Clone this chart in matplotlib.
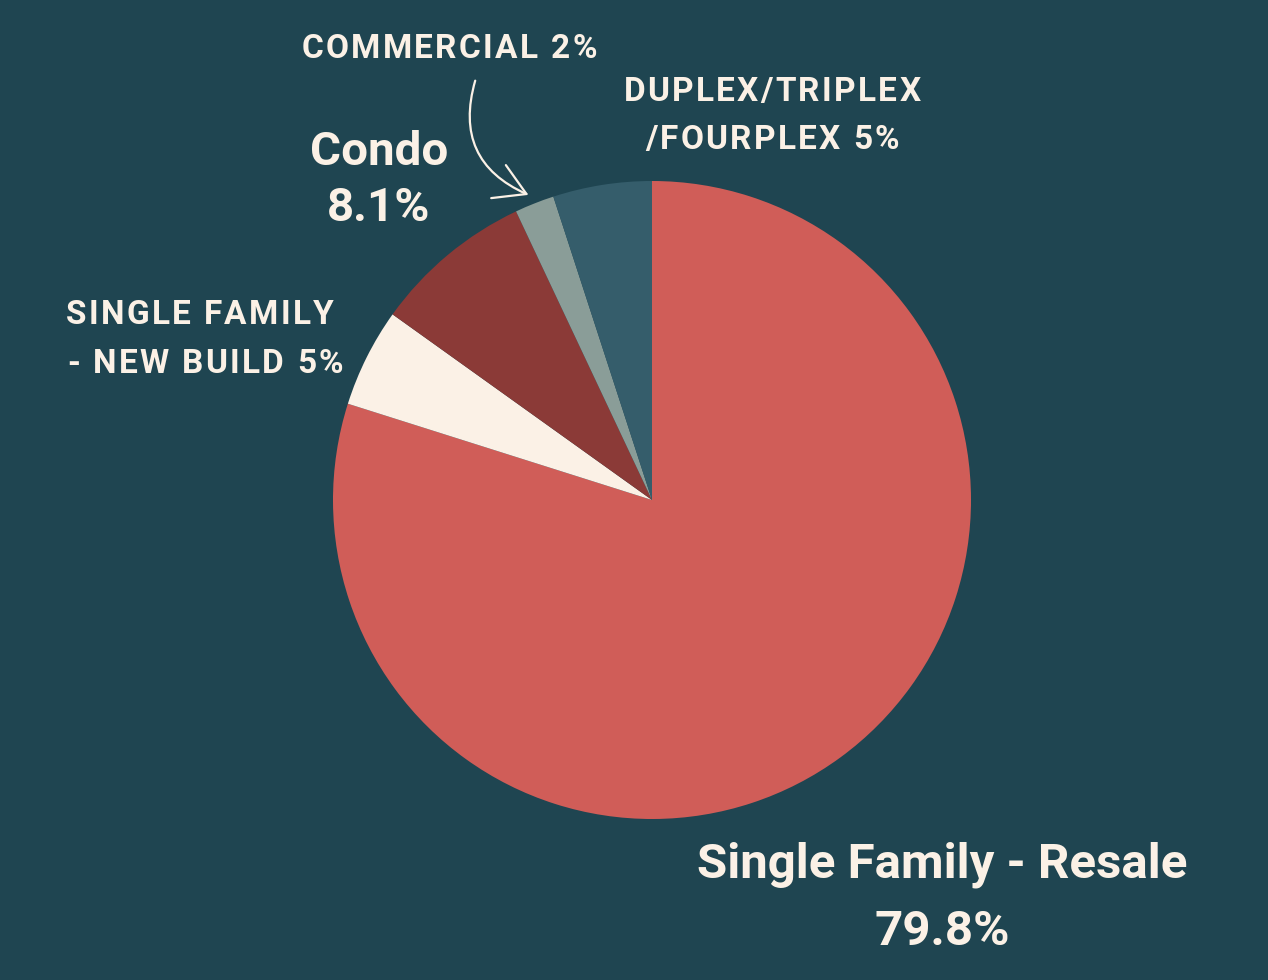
import matplotlib
matplotlib.use("Agg")
import matplotlib.pyplot as plt
from matplotlib.patches import FancyArrowPatch

W, H = 1268, 980

labels = ["Single Family - Resale", "Single Family - New Build", "Condo",
          "Commercial", "Duplex/Triplex/Fourplex"]
shares = [79.8, 5, 8.1, 2, 5]
colors = ["#D05D58", "#FBF1E6", "#8B3A37", "#8A9D98", "#355D6B"]

bg = "#1F4551"
ink = "#FBF1E6"

fig = plt.figure(figsize=(W / 100, H / 100), dpi=100, facecolor=bg)
ax = fig.add_axes([0, 0, 1, 1])
ax.set_facecolor(bg)

ax.pie(shares, colors=colors, startangle=90, counterclock=False,
       center=(652, H - 500), radius=319, frame=True,
       wedgeprops=dict(linewidth=0))
ax.set_xlim(0, W)
ax.set_ylim(0, H)
ax.axis("off")

renderer = fig.canvas.get_renderer()


def put(x, y, s, size, ha="center"):
    ax.text(x, H - y, s, color=ink, fontsize=size, fontweight="bold",
            family="Roboto", ha=ha, va="center")


def put_tracked(x, y, s, size, track, ha="center"):
    # draw letter by letter to get the wide letter spacing
    widths = []
    for ch in s:
        t = ax.text(0, 0, ch if ch != " " else "n", fontsize=size,
                    fontweight="bold", family="Roboto")
        w = t.get_window_extent(renderer).width
        if ch == " ":
            w *= 0.45
        widths.append(w)
        t.remove()
    total = sum(widths) + track * (len(s) - 1)
    cx = x - total / 2 if ha == "center" else x
    for ch, w in zip(s, widths):
        if ch != " ":
            ax.text(cx, H - y, ch, color=ink, fontsize=size, fontweight="bold",
                    family="Roboto", ha="left", va="center")
        cx += w + track


small = 24
trk = 2.3
put_tracked(449, 49, "COMMERCIAL 2%", small, trk)
put_tracked(772, 92, "DUPLEX/TRIPLEX", small, trk)
put_tracked(772, 140, "/FOURPLEX 5%", small, trk)
put_tracked(66, 315, "SINGLE FAMILY", small, trk, ha="left")
put_tracked(67, 364, "- NEW BUILD 5%", small, trk, ha="left")
put(379, 152, "Condo", 34.2)
put(379, 208, "8.1%", 34.2)
put(942, 865, "Single Family - Resale", 35.5)
put(942, 932, "79.8%", 35.5)

arrow = FancyArrowPatch((476, H - 78), (531, H - 196),
                        connectionstyle="arc3,rad=0.45",
                        arrowstyle="->,head_length=22,head_width=13",
                        color=ink, lw=1.6)
ax.add_patch(arrow)

fig.savefig("out.png", dpi=100, facecolor=bg)
